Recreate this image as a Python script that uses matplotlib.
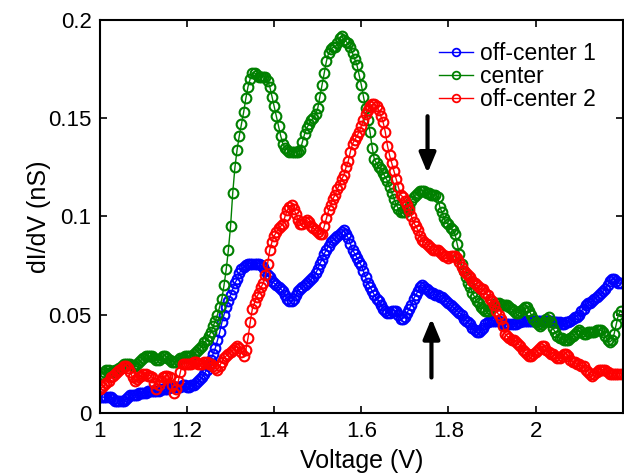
import numpy as np
import matplotlib
matplotlib.use("Agg")
import matplotlib.pyplot as plt

plt.rcParams['font.family'] = ['Liberation Sans', 'DejaVu Sans']

# Bias voltage (V), 5 mV steps from 1.000 to 2.195
voltage = [round(1.0 + 0.005 * i, 3) for i in range(240)]

center = [
    0.019, 0.020, 0.021, 0.022, 0.022, 0.021, 0.021, 0.022, 0.022, 0.023,
    0.024, 0.025, 0.025, 0.025, 0.025, 0.024, 0.024, 0.025, 0.026, 0.027,
    0.028, 0.029, 0.029, 0.029, 0.029, 0.028, 0.027, 0.027, 0.028, 0.029,
    0.029, 0.028, 0.027, 0.026, 0.026, 0.026, 0.027, 0.028, 0.028, 0.029,
    0.029, 0.029, 0.029, 0.030, 0.031, 0.032, 0.033, 0.034, 0.036, 0.037,
    0.039, 0.041, 0.044, 0.047, 0.050, 0.054, 0.058, 0.065, 0.073, 0.083,
    0.095, 0.112, 0.125, 0.134, 0.141, 0.147, 0.153, 0.160, 0.166, 0.170,
    0.173, 0.173, 0.172, 0.171, 0.171, 0.171, 0.171, 0.169, 0.166, 0.161,
    0.156, 0.151, 0.146, 0.141, 0.137, 0.135, 0.134, 0.133, 0.133, 0.133,
    0.133, 0.133, 0.134, 0.138, 0.142, 0.145, 0.147, 0.149, 0.150, 0.152,
    0.155, 0.161, 0.167, 0.173, 0.179, 0.183, 0.185, 0.186, 0.186, 0.188,
    0.191, 0.192, 0.190, 0.189, 0.188, 0.186, 0.183, 0.180, 0.177, 0.172,
    0.167, 0.161, 0.155, 0.149, 0.143, 0.135, 0.129, 0.127, 0.125, 0.124,
    0.122, 0.120, 0.118, 0.115, 0.112, 0.109, 0.106, 0.104, 0.102, 0.102,
    0.102, 0.103, 0.105, 0.108, 0.110, 0.111, 0.112, 0.113, 0.113, 0.113,
    0.112, 0.112, 0.111, 0.111, 0.111, 0.110, 0.105, 0.102, 0.099, 0.097,
    0.096, 0.094, 0.093, 0.091, 0.086, 0.081, 0.076, 0.072, 0.069, 0.066,
    0.064, 0.061, 0.059, 0.057, 0.056, 0.054, 0.053, 0.052, 0.052, 0.053,
    0.054, 0.055, 0.056, 0.056, 0.055, 0.055, 0.055, 0.055, 0.054, 0.053,
    0.052, 0.051, 0.051, 0.052, 0.053, 0.054, 0.054, 0.052, 0.050, 0.048,
    0.046, 0.045, 0.044, 0.045, 0.046, 0.048, 0.049, 0.046, 0.043, 0.041,
    0.039, 0.038, 0.038, 0.037, 0.037, 0.037, 0.038, 0.039, 0.040, 0.041,
    0.042, 0.041, 0.040, 0.040, 0.041, 0.041, 0.041, 0.041, 0.042, 0.042,
    0.042, 0.041, 0.039, 0.037, 0.036, 0.037, 0.040, 0.045, 0.050, 0.052,
]

off_center_1 = [
    0.008, 0.008, 0.008, 0.008, 0.008, 0.008, 0.007, 0.006, 0.006, 0.006,
    0.006, 0.006, 0.007, 0.008, 0.009, 0.009, 0.009, 0.009, 0.010, 0.010,
    0.010, 0.010, 0.011, 0.011, 0.011, 0.011, 0.011, 0.011, 0.012, 0.012,
    0.012, 0.012, 0.013, 0.013, 0.013, 0.013, 0.013, 0.013, 0.014, 0.014,
    0.013, 0.013, 0.014, 0.014, 0.015, 0.016, 0.017, 0.018, 0.020, 0.022,
    0.024, 0.027, 0.030, 0.033, 0.037, 0.041, 0.046, 0.050, 0.054, 0.057,
    0.060, 0.063, 0.066, 0.068, 0.071, 0.073, 0.074, 0.075, 0.076, 0.076,
    0.076, 0.076, 0.076, 0.076, 0.075, 0.074, 0.072, 0.070, 0.069, 0.067,
    0.066, 0.065, 0.064, 0.063, 0.062, 0.060, 0.058, 0.057, 0.057, 0.058,
    0.060, 0.062, 0.063, 0.064, 0.065, 0.066, 0.067, 0.068, 0.069, 0.071,
    0.073, 0.076, 0.078, 0.081, 0.083, 0.085, 0.087, 0.088, 0.089, 0.090,
    0.091, 0.092, 0.093, 0.091, 0.089, 0.086, 0.083, 0.081, 0.079, 0.077,
    0.075, 0.072, 0.069, 0.066, 0.064, 0.062, 0.060, 0.058, 0.057, 0.055,
    0.053, 0.052, 0.051, 0.051, 0.052, 0.052, 0.052, 0.050, 0.048, 0.048,
    0.049, 0.051, 0.053, 0.055, 0.058, 0.060, 0.062, 0.064, 0.065, 0.064,
    0.063, 0.062, 0.061, 0.061, 0.060, 0.060, 0.059, 0.059, 0.058, 0.057,
    0.056, 0.055, 0.054, 0.053, 0.052, 0.051, 0.050, 0.048, 0.047, 0.046,
    0.045, 0.043, 0.042, 0.041, 0.041, 0.042, 0.043, 0.045, 0.046, 0.047,
    0.047, 0.047, 0.047, 0.047, 0.046, 0.045, 0.045, 0.045, 0.045, 0.045,
    0.045, 0.045, 0.046, 0.046, 0.047, 0.047, 0.047, 0.047, 0.047, 0.047,
    0.047, 0.047, 0.047, 0.047, 0.047, 0.047, 0.047, 0.047, 0.046, 0.046,
    0.046, 0.046, 0.045, 0.045, 0.046, 0.046, 0.047, 0.048, 0.049, 0.049,
    0.050, 0.052, 0.053, 0.055, 0.056, 0.056, 0.057, 0.058, 0.059, 0.060,
    0.061, 0.062, 0.063, 0.065, 0.067, 0.068, 0.068, 0.067, 0.066, 0.066,
]

off_center_2 = [
    0.012, 0.013, 0.014, 0.015, 0.016, 0.018, 0.019, 0.020, 0.021, 0.022,
    0.023, 0.024, 0.024, 0.023, 0.021, 0.018, 0.016, 0.017, 0.018, 0.019,
    0.020, 0.020, 0.019, 0.019, 0.018, 0.015, 0.012, 0.014, 0.016, 0.018,
    0.019, 0.019, 0.018, 0.014, 0.010, 0.012, 0.016, 0.021, 0.025, 0.025,
    0.025, 0.025, 0.025, 0.026, 0.026, 0.025, 0.025, 0.025, 0.026, 0.026,
    0.025, 0.025, 0.024, 0.023, 0.022, 0.024, 0.026, 0.028, 0.029, 0.030,
    0.031, 0.032, 0.033, 0.034, 0.033, 0.031, 0.029, 0.032, 0.038, 0.046,
    0.053, 0.056, 0.059, 0.061, 0.064, 0.066, 0.070, 0.076, 0.083, 0.087,
    0.090, 0.092, 0.094, 0.095, 0.096, 0.100, 0.103, 0.105, 0.106, 0.104,
    0.101, 0.098, 0.096, 0.096, 0.097, 0.098, 0.097, 0.095, 0.094, 0.093,
    0.092, 0.091, 0.091, 0.095, 0.099, 0.103, 0.106, 0.109, 0.111, 0.114,
    0.116, 0.119, 0.121, 0.125, 0.128, 0.133, 0.137, 0.139, 0.141, 0.143,
    0.146, 0.149, 0.152, 0.154, 0.156, 0.157, 0.157, 0.156, 0.154, 0.151,
    0.148, 0.143, 0.136, 0.131, 0.127, 0.123, 0.119, 0.115, 0.111, 0.110,
    0.108, 0.106, 0.103, 0.100, 0.097, 0.095, 0.093, 0.090, 0.088, 0.087,
    0.086, 0.085, 0.084, 0.083, 0.083, 0.083, 0.082, 0.081, 0.080, 0.080,
    0.079, 0.080, 0.080, 0.080, 0.079, 0.077, 0.074, 0.072, 0.071, 0.070,
    0.069, 0.067, 0.066, 0.065, 0.064, 0.063, 0.063, 0.061, 0.060, 0.058,
    0.057, 0.055, 0.052, 0.050, 0.048, 0.044, 0.040, 0.039, 0.038, 0.037,
    0.037, 0.036, 0.035, 0.034, 0.032, 0.031, 0.030, 0.029, 0.029, 0.030,
    0.031, 0.032, 0.033, 0.034, 0.034, 0.032, 0.031, 0.030, 0.030, 0.029,
    0.028, 0.028, 0.029, 0.030, 0.030, 0.029, 0.027, 0.026, 0.026, 0.025,
    0.025, 0.024, 0.024, 0.022, 0.021, 0.020, 0.019, 0.020, 0.021, 0.022,
    0.022, 0.022, 0.022, 0.021, 0.020, 0.020, 0.020, 0.020, 0.020, 0.020,
]

series_labels = ['off-center 1', 'center', 'off-center 2']
series_colors = ['#0000ff', '#008000', '#ff0000']
xticks = [1, 1.2, 1.4, 1.6, 1.8, 2]
xticklabels = ['1', '1.2', '1.4', '1.6', '1.8', '2']
yticks = [0, 0.05, 0.1, 0.15, 0.2]
yticklabels = ['0', '0.05', '0.1', '0.15', '0.2']

# arrows marking the feature near 1.76 V (x, tail y, head y)
arrow_down = (1.752, 0.151, 0.122)
arrow_up = (1.761, 0.018, 0.048)

fig = plt.figure(figsize=(6.24, 4.74), dpi=100)
ax = fig.add_axes([0.160, 0.129, 0.838, 0.829])

for ys, lab, col in zip([off_center_1, center, off_center_2], series_labels, series_colors):
    ax.plot(voltage, ys, color=col, lw=1.0, marker='o', markersize=7,
            markerfacecolor='none', markeredgecolor=col, markeredgewidth=1.5,
            label=lab)

ax.set_xlim(1, 2.2)
ax.set_ylim(0, 0.2)
ax.set_xticks(xticks)
ax.set_xticklabels(xticklabels)
ax.set_yticks(yticks)
ax.set_yticklabels(yticklabels)
ax.tick_params(direction='in', length=5, width=1.2, top=True, right=True,
               labelsize=16, pad=6)
for s in ax.spines.values():
    s.set_linewidth(1.5)

ax.set_xlabel('Voltage (V)', fontsize=18, labelpad=5)
ax.set_ylabel('dI/dV (nS)', fontsize=18, labelpad=-2)

leg = ax.legend(loc='upper left', frameon=False, fontsize=16.5,
                handlelength=1.5, handletextpad=0.3, labelspacing=0.0,
                borderpad=0.0, borderaxespad=0.0, bbox_to_anchor=(0.648, 0.944))
for h in leg.legend_handles:
    h.set_markersize(5.5)
    h.set_markeredgewidth(1.3)

arrow_kw = dict(arrowstyle='-|>,head_length=1.2,head_width=0.5', color='black', lw=3,
                shrinkA=0, shrinkB=0)
ax.annotate('', xy=(arrow_down[0], arrow_down[2]), xytext=(arrow_down[0], arrow_down[1]),
            arrowprops=arrow_kw)
ax.annotate('', xy=(arrow_up[0], arrow_up[2]), xytext=(arrow_up[0], arrow_up[1]),
            arrowprops=arrow_kw)

fig.savefig('out.png', dpi=100)
